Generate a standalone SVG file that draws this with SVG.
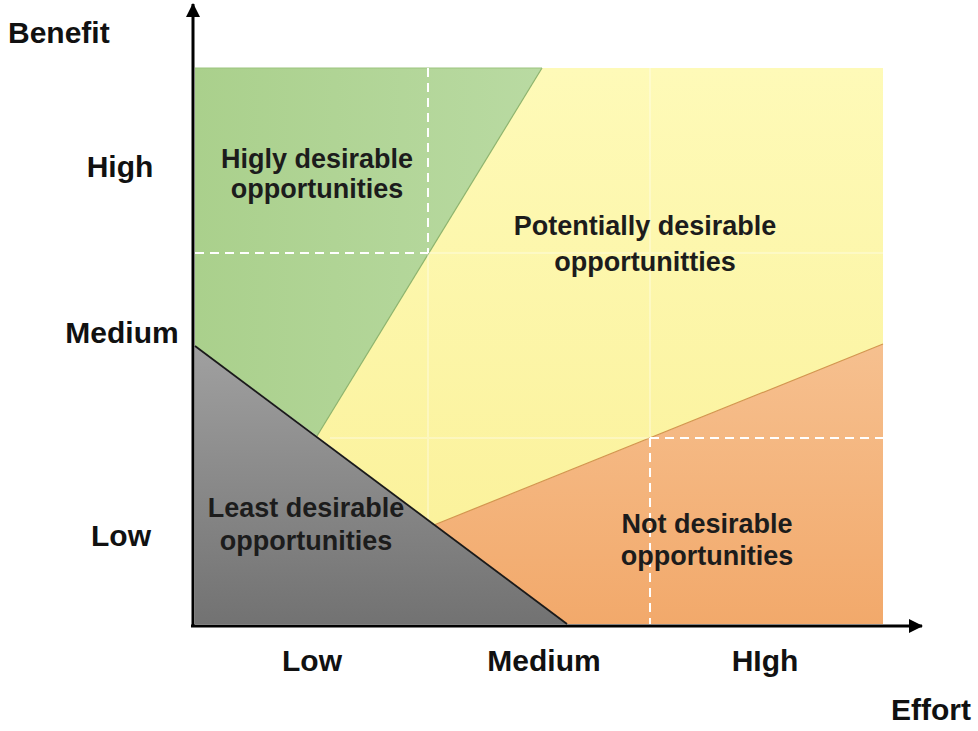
<svg xmlns="http://www.w3.org/2000/svg" width="978" height="731" viewBox="0 0 978 731">
  <style>
    .axis-label { font-family: "Liberation Sans", Arial, sans-serif; font-weight: bold; font-size: 30px; fill: #111; }
    .zone-label { font-family: "Liberation Sans", Arial, sans-serif; font-weight: bold; font-size: 27px; fill: #1c1c1c; text-anchor: middle; }
    .axis { stroke: #000; stroke-width: 3; fill: none; }
    .grid-dash { stroke: #fff; stroke-width: 2; stroke-dasharray: 9 6; fill: none; }
    .grid-faint { stroke: #fff; stroke-width: 2; stroke-opacity: 0.3; fill: none; }
  </style>
  <defs>
    <linearGradient id="gYellow" x1="0" y1="0" x2="0" y2="1">
      <stop offset="0" stop-color="#fefab8"/>
      <stop offset="1" stop-color="#fbf29c"/>
    </linearGradient>
    <linearGradient id="gGreen" x1="0" y1="0" x2="1" y2="0">
      <stop offset="0" stop-color="#aad08c"/>
      <stop offset="1" stop-color="#b9daa2"/>
    </linearGradient>
    <linearGradient id="gGrey" x1="0" y1="0" x2="0" y2="1">
      <stop offset="0" stop-color="#a0a0a0"/>
      <stop offset="1" stop-color="#727272"/>
    </linearGradient>
    <linearGradient id="gOrange" x1="0" y1="0" x2="0" y2="1">
      <stop offset="0" stop-color="#f6c08f"/>
      <stop offset="1" stop-color="#f2a96b"/>
    </linearGradient>
    <marker id="arrow" markerWidth="14" markerHeight="14" refX="13" refY="7" orient="auto" markerUnits="userSpaceOnUse">
      <path d="M0,0 L14,7 L0,14 Z" fill="#000"/>
    </marker>
  </defs>

  <rect width="978" height="731" fill="#fff"/>

  <!-- Zones -->
  <g id="zone-potential">
    <polygon points="542,68 883,68 883,344 434,525 317,436" fill="url(#gYellow)"/>
  </g>
  <g id="zone-highly">
    <polygon points="195,68 542,68 317,436 195,346" fill="url(#gGreen)"/>
    <line x1="542" y1="68" x2="317" y2="436" stroke="#8db36c" stroke-width="1.2"/>
    <line x1="195" y1="68" x2="542" y2="68" stroke="#9cc47e" stroke-width="1"/>
  </g>
  <g id="zone-not">
    <polygon points="434,525 883,344 883,624 567,624" fill="url(#gOrange)"/>
    <line x1="434" y1="525" x2="883" y2="344" stroke="#d3964e" stroke-width="1.2"/>
  </g>

  <!-- Grid lines -->
  <g id="grid">
    <path class="grid-faint" d="M428,253 V520 M650,68 V438 M428,253 H883 M330,438 H650"/>
    <path class="grid-dash" d="M428,68 V253 M195,253 H428 M650,438 V624 M650,438 H883"/>
  </g>

  <g id="zone-least">
    <polygon points="195,346 567,624 195,624" fill="url(#gGrey)"/>
    <line x1="195" y1="346" x2="567" y2="624" stroke="#1a1a1a" stroke-width="1.8"/>
  </g>

  <!-- Axes -->
  <g id="connectors">
    <line class="axis" x1="193" y1="627" x2="193" y2="4" marker-end="url(#arrow)"/>
    <line class="axis" x1="191" y1="626" x2="922" y2="626" marker-end="url(#arrow)"/>
  </g>

  <!-- Zone labels -->
  <g id="label-highly">
    <text class="zone-label" x="317" y="168">Higly desirable</text>
    <text class="zone-label" x="317" y="198">opportunities</text>
  </g>
  <g id="label-potential">
    <text class="zone-label" x="645" y="235">Potentially desirable</text>
    <text class="zone-label" x="645" y="271">opportunitties</text>
  </g>
  <g id="label-least">
    <text class="zone-label" x="306" y="517">Least desirable</text>
    <text class="zone-label" x="306" y="550">opportunities</text>
  </g>
  <g id="label-not">
    <text class="zone-label" x="707" y="533">Not desirable</text>
    <text class="zone-label" x="707" y="565">opportunities</text>
  </g>

  <!-- Axis labels -->
  <g id="y-axis-labels">
    <text class="axis-label" x="8" y="43">Benefit</text>
    <text class="axis-label" x="120" y="177" text-anchor="middle">High</text>
    <text class="axis-label" x="122" y="343" text-anchor="middle">Medium</text>
    <text class="axis-label" x="121" y="546" text-anchor="middle">Low</text>
  </g>
  <g id="x-axis-labels">
    <text class="axis-label" x="312" y="671" text-anchor="middle">Low</text>
    <text class="axis-label" x="544" y="671" text-anchor="middle">Medium</text>
    <text class="axis-label" x="765" y="671" text-anchor="middle">HIgh</text>
    <text class="axis-label" x="931" y="720" text-anchor="middle">Effort</text>
  </g>
</svg>
